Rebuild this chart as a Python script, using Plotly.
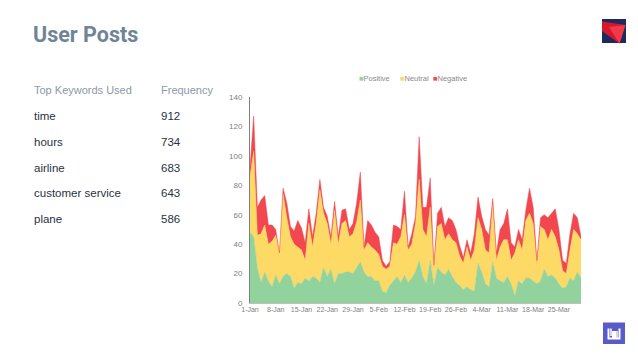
import plotly.graph_objects as go
import pandas as pd

# ---------------- data ----------------
dates = pd.date_range("2016-01-01", "2016-03-31", freq="D")

positive = [48, 45, 24, 14, 21, 15, 11, 19, 13, 18, 20, 18, 10, 14, 13, 17, 15, 18, 17, 14,
            24, 18, 23, 13, 20, 20, 21, 21, 20, 24, 28, 21, 18, 18, 15, 15, 8, 7, 12, 15, 18,
            14, 19, 14, 17, 21, 29, 18, 13, 29, 12, 24, 21, 19, 23, 18, 14, 12, 9, 11, 9,
            8, 27, 21, 13, 11, 28, 17, 15, 14, 18, 13, 5, 15, 13, 17, 17, 15, 13, 15, 23,
            18, 19, 17, 13, 10, 11, 17, 15, 21, 17]

neutral_top = [86, 103, 46, 47, 53, 40, 42, 46, 34, 74, 58, 45, 40, 38, 36, 29, 54, 38, 54, 77,
               61, 54, 40, 63, 40, 54, 56, 45, 47, 55, 70, 36, 41, 38, 36, 33, 25, 23, 25, 41, 40,
               45, 60, 36, 40, 54, 84, 50, 45, 65, 24, 52, 54, 43, 47, 43, 41, 32, 27, 38, 29,
               36, 58, 50, 36, 34, 67, 29, 38, 43, 43, 29, 34, 43, 36, 56, 61, 54, 26, 52, 50,
               43, 50, 45, 36, 22, 20, 36, 50, 47, 43]

total = [92, 127, 65, 70, 73, 53, 53, 50, 34, 78, 68, 52, 49, 56, 51, 41, 64, 45, 61, 84,
         65, 59, 45, 69, 45, 63, 64, 50, 54, 68, 89, 38, 56, 53, 48, 45, 29, 25, 28, 53, 52,
         50, 76, 38, 47, 59, 113, 65, 65, 85, 26, 61, 65, 52, 58, 56, 50, 39, 31, 43, 34,
         47, 72, 59, 50, 46, 71, 34, 50, 54, 64, 41, 38, 50, 43, 63, 78, 65, 29, 58, 60,
         58, 61, 64, 50, 29, 27, 47, 61, 58, 45]

neutral = [t - p for t, p in zip(neutral_top, positive)]
negative = [t - n for t, n in zip(total, neutral_top)]

series_names = ["Positive", "Neutral", "Negative"]
series_colors = ["#92D29C", "#FDD966", "#F2474F"]

tick_dates = pd.date_range("2016-01-01", "2016-03-25", freq="7D")
tick_labels = ["1-Jan", "8-Jan", "15-Jan", "22-Jan", "29-Jan", "5-Feb", "12-Feb",
               "19-Feb", "26-Feb", "4-Mar", "11-Mar", "18-Mar", "25-Mar"]

keywords = ["time", "hours", "airline", "customer service", "plane"]
frequencies = [912, 734, 683, 643, 586]

# ---------------- figure ----------------
W, H = 638, 359
L, R, T, B = 250, 57, 97, 56
pw, ph = W - L - R, H - T - B

def px(x):
    return (x - L) / pw

def py(y):
    return (H - B - y) / ph

fig = go.Figure()
for name, vals, col in zip(series_names, [positive, neutral, negative], series_colors):
    fig.add_trace(go.Scatter(
        x=dates, y=vals, name=name, mode="lines", stackgroup="one",
        line=dict(width=0.5, color=col), fillcolor=col, showlegend=False,
    ))

axis_font = "Liberation Sans, Arial, sans-serif"

fig.update_layout(
    width=W, height=H,
    margin=dict(l=L, r=R, t=T, b=B),
    paper_bgcolor="white", plot_bgcolor="white",
    font=dict(family=axis_font, color="#7F7F7F", size=8),
    xaxis=dict(
        range=[dates[0], dates[-1]], tickmode="array", tickvals=tick_dates,
        ticktext=tick_labels, showgrid=False, zeroline=False, showline=True,
        linecolor="#BFBFBF", linewidth=1, ticks="", tickangle=0,
        tickfont=dict(size=7, color="#808080"),
    ),
    yaxis=dict(
        range=[0, 140], dtick=20, showgrid=False, zeroline=False, showline=True,
        linecolor="#808080", linewidth=1, ticks="", ticklabelstandoff=5,
        tickfont=dict(size=8, color="#808080"),
    ),
)

ann = []
# title
ann.append(dict(text="<b>User Posts</b>", x=px(31), y=py(35), xref="paper", yref="paper",
                xanchor="left", yanchor="middle", showarrow=False,
                font=dict(family="Roboto, Liberation Sans, sans-serif", size=21.5, color="#6F8496")))
# legend
leg_x = [357, 398, 431]
for name, col, lx in zip(series_names, series_colors, leg_x):
    ann.append(dict(text=f"<span style='color:{col}'>■</span>{name}", x=px(lx), y=py(78),
                    xref="paper", yref="paper", xanchor="left", yanchor="middle",
                    showarrow=False, font=dict(family=axis_font, size=7.5, color="#8A8A8A")))
# table
table_font = "Liberation Sans, Arial, sans-serif"
ann.append(dict(text="Top Keywords Used", x=px(32), y=py(90), xref="paper", yref="paper",
                xanchor="left", yanchor="middle", showarrow=False,
                font=dict(family=table_font, size=11, color="#8C99A6")))
ann.append(dict(text="Frequency", x=px(159), y=py(90), xref="paper", yref="paper",
                xanchor="left", yanchor="middle", showarrow=False,
                font=dict(family=table_font, size=11, color="#8C99A6")))
for i, (k, f) in enumerate(zip(keywords, frequencies)):
    yy = 116 + i * 25.8
    ann.append(dict(text=k, x=px(32), y=py(yy), xref="paper", yref="paper",
                    xanchor="left", yanchor="middle", showarrow=False,
                    font=dict(family=table_font, size=11.5, color="#28323F")))
    ann.append(dict(text=str(f), x=px(159), y=py(yy), xref="paper", yref="paper",
                    xanchor="left", yanchor="middle", showarrow=False,
                    font=dict(family=table_font, size=11.5, color="#28323F")))
fig.update_layout(annotations=ann)

def path(points, close=True):
    s = "M " + " L ".join(f"{px(a)},{py(b)}" for a, b in points)
    return s + (" Z" if close else "")

shapes = []
# Delta logo (top right)
shapes.append(dict(type="rect", xref="paper", yref="paper", x0=px(602), x1=px(626),
                   y0=py(43), y1=py(19), fillcolor="#1C2B5C", line=dict(width=0)))
shapes.append(dict(type="path", xref="paper", yref="paper",
                   path=path([(602, 21.5), (625.5, 25), (619.5, 43.5), (602, 31)]),
                   fillcolor="#D8172F", line=dict(width=0)))
shapes.append(dict(type="path", xref="paper", yref="paper",
                   path=path([(609, 27), (625.5, 25), (619.5, 43.5)]),
                   fillcolor="#F03A4C", line=dict(width=0)))
# bottom right logo
shapes.append(dict(type="rect", xref="paper", yref="paper", x0=px(603), x1=px(625),
                   y0=py(344), y1=py(322.5), fillcolor="#5A5BC9", line=dict(width=0)))
shapes.append(dict(type="path", xref="paper", yref="paper",
                   path=path([(608.5, 328.5), (608.5, 338.5), (613, 338.5), (613, 332),
                              (615, 332), (615, 338.5), (619.5, 338.5), (619.5, 328.5)], close=False),
                   line=dict(color="white", width=2)))
shapes.append(dict(type="path", xref="paper", yref="paper",
                   path=path([(611, 328.5), (611, 336)], close=False),
                   line=dict(color="white", width=1.5)))
shapes.append(dict(type="path", xref="paper", yref="paper",
                   path=path([(617, 331), (617, 338.5)], close=False),
                   line=dict(color="white", width=1.5)))
fig.update_layout(shapes=shapes)

fig.write_html("out.html", config={"displayModeBar": False},
               post_script="document.body.style.margin='0';document.body.style.overflow='hidden';")
